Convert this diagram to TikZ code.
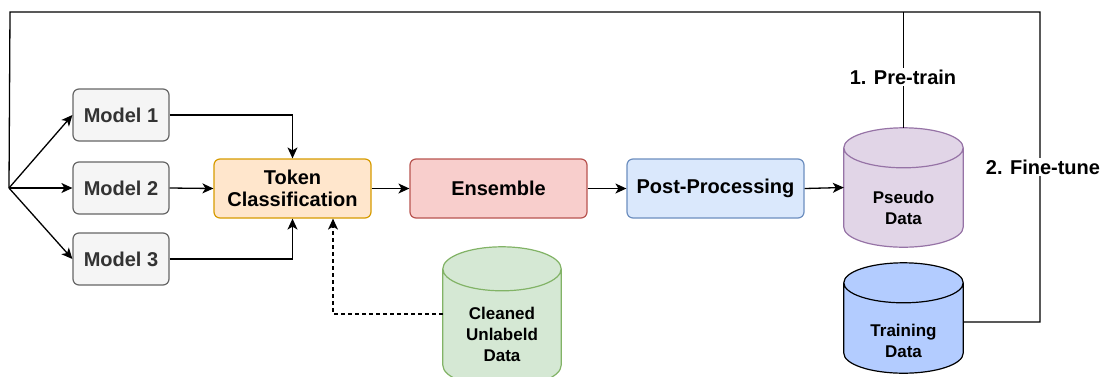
\documentclass[tikz,border=0pt]{standalone}
\usepackage{fontspec}
\setmainfont{Liberation Sans}
\usetikzlibrary{arrows.meta,calc}
\definecolor{mfill}{HTML}{F5F5F5}\definecolor{mdraw}{HTML}{666666}\definecolor{mtext}{HTML}{333333}
\definecolor{tfill}{HTML}{FFE6CC}\definecolor{tdraw}{HTML}{D79B00}
\definecolor{efill}{HTML}{F8CECC}\definecolor{edraw}{HTML}{B85450}
\definecolor{pfill}{HTML}{DAE8FC}\definecolor{pdraw}{HTML}{6C8EBF}
\definecolor{psfill}{HTML}{E1D5E7}\definecolor{psdraw}{HTML}{9673A6}
\definecolor{cfill}{HTML}{D5E8D4}\definecolor{cdraw}{HTML}{82B366}
\definecolor{trfill}{HTML}{B3CCFF}
\tikzset{
  box/.style={rectangle,rounded corners=6pt,line width=1.2pt,align=center,inner sep=0pt,
    font=\fontsize{20}{24}\selectfont\bfseries},
  modelbox/.style={box,fill=mfill,draw=mdraw,text=mtext,minimum width=96pt,minimum height=52pt},
  procbox/.style={box,minimum width=177pt,minimum height=59pt},
  cylarea/.style={rectangle,inner sep=0pt,draw=none},
  cyltext/.style={align=center,inner sep=0pt,font=\fontsize{17}{21}\selectfont\bfseries},
  arr/.style={line width=1.3pt,-{Stealth[length=11pt,width=10pt,inset=3pt]}},
  conn/.style={line width=1.3pt},
  lbl/.style={fill=white,inner sep=2pt,font=\fontsize{20}{24}\selectfont\bfseries}
}
% cylinder drawn around a named area node: #1 name, #2 y radius, #3 fill, #4 draw
\newcommand{\cylof}[4]{%
  \path let \p1=(#1.north west), \p2=(#1.south east), \n1={(\x2-\x1)/2} in
    [fill=#3,draw=#4,line width=1.2pt]
    (\x1,\y1-#2) -- (\x1,\y2+#2)
    arc[start angle=180,end angle=360,x radius=\n1,y radius=#2]
    -- (\x2,\y1-#2)
    arc[start angle=0,end angle=180,x radius=\n1,y radius=#2] -- cycle
    (\x1,\y1-#2) arc[start angle=180,end angle=360,x radius=\n1,y radius=#2];}
\begin{document}
\begin{tikzpicture}[x=1pt,y=-1pt]
\useasboundingbox (0,0) rectangle (1104,376);
\clip (0,0) rectangle (1104,376);
% models
\node[modelbox] (m1) at (121,115) {Model 1};
\node[modelbox] (m2) at (121,188) {Model 2};
\node[modelbox] (m3) at (121,259) {Model 3};
% process boxes
\node[procbox,fill=tfill,draw=tdraw,minimum width=157pt] (tok) at (292.5,188.5) {Token\\[-2pt]Classification};
\node[procbox,fill=efill,draw=edraw] (ens) at (498.5,188.5) {Ensemble};
\node[procbox,fill=pfill,draw=pdraw] (pp) at (715.5,188.5) {Post-Processing};
% cylinders
\node[cylarea,minimum width=119pt,minimum height=119pt] (pseudo) at (903.5,187.5) {};
\cylof{pseudo}{20pt}{psfill}{psdraw}
\node[cyltext] (pseudotxt) at (903.5,207.5) {Pseudo\\Data};
\node[cylarea,minimum width=119pt,minimum height=110pt] (trn) at (903.5,318) {};
\cylof{trn}{20pt}{trfill}{black}
\node[cyltext] (trntxt) at (903.5,341) {Training\\Data};
\node[cylarea,minimum width=118pt,minimum height=140pt] (cln) at (502,317) {};
\cylof{cln}{22pt}{cfill}{cdraw}
\node[cyltext] (clntxt) at (502,334) {Cleaned\\Unlabeld\\Data};
% coordinates
\coordinate (split) at (9,188);
\coordinate (tl) at (10,12);
\coordinate (tr) at (1040,12);
\coordinate (tre) at ([yshift=-4pt]trn.east);
\coordinate (clnw) at ([yshift=3pt]cln.west);
% connectors
\draw[arr] (split) -- (m1.west);
\draw[arr] (split) -- (m2.west);
\draw[arr] (split) -- (m3.west);
\draw[arr] (m1.east) -| (tok.north);
\draw[arr] (m2.east) -- (tok.west);
\draw[arr] (m3.east) -| (tok.south);
\draw[arr,dash pattern=on 4pt off 3pt] (clnw) -| ([xshift=40.5pt]tok.south);
\draw[arr] (tok.east) -- (ens.west);
\draw[arr] (ens.east) -- (pp.west);
\draw[arr] (pp.east) -- (pseudo.west);
\draw[conn] (tre) -| (tr) -- (tl) -- (split);
\draw[conn] (pseudo.north) -- (pseudo.north |- tl);
\node[lbl] (pre) at (903,77) {1. Pre-train};
\node[lbl,inner xsep=1pt] (fine) at (1043,167) {2. Fine-tune};
\end{tikzpicture}
\end{document}
